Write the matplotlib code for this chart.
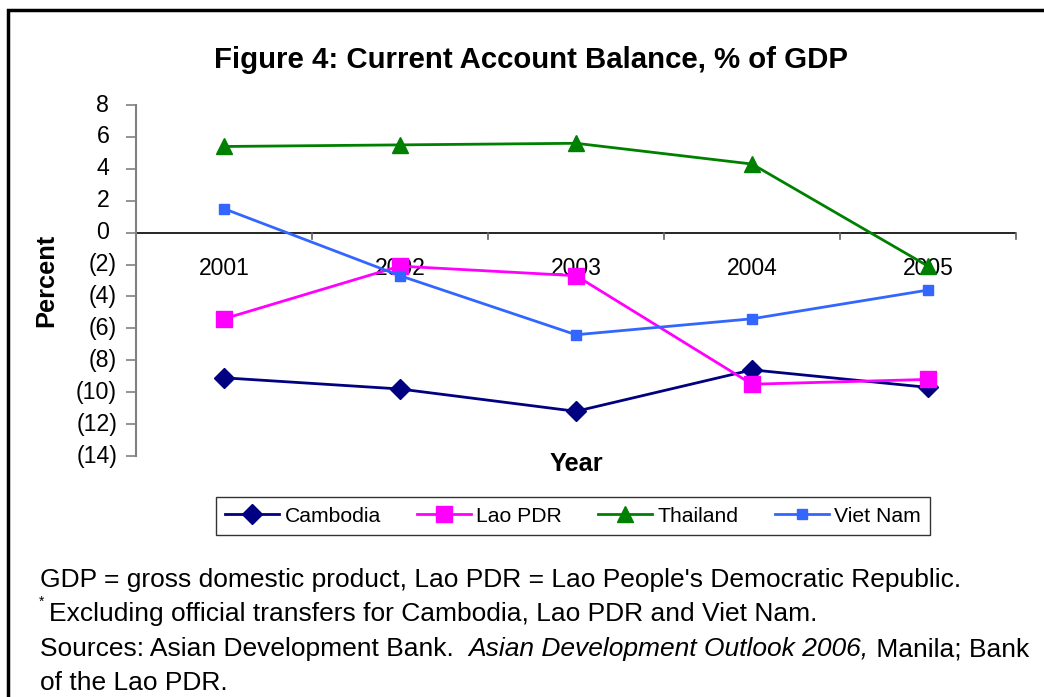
import matplotlib
matplotlib.use("Agg")
import matplotlib.pyplot as plt
from matplotlib.patches import Rectangle
from matplotlib.transforms import offset_copy

plt.rcParams['font.family'] = ['Liberation Sans', 'DejaVu Sans']

years = ["2001", "2002", "2003", "2004", "2005"]
cambodia = [-9.1, -9.8, -11.2, -8.6, -9.7]
lao_pdr = [-5.4, -2.1, -2.7, -9.5, -9.2]
thailand = [5.4, 5.5, 5.6, 4.3, -2.1]
viet_nam = [1.5, -2.7, -6.4, -5.4, -3.6]
y_ticks = [8, 6, 4, 2, 0, -2, -4, -6, -8, -10, -12, -14]

W, H = 1044, 697
fig = plt.figure(figsize=(W / 100, H / 100), dpi=100)
fig.patch.set_facecolor("white")

# outer frame
fig.add_artist(Rectangle((8 / W, -0.05), 1.1, 1 - 10 / H + 0.05,
                         transform=fig.transFigure, fill=False,
                         edgecolor="black", linewidth=2.5))

ax = fig.add_axes([136 / W, 1 - 456 / H, (1016 - 136) / W, (456 - 105) / H])
x = list(range(len(years)))

series = [
    ("Cambodia", cambodia, "#000080", "D", 10),
    ("Lao PDR", lao_pdr, "#FF00FF", "s", 11),
    ("Thailand", thailand, "#008000", "^", 11),
    ("Viet Nam", viet_nam, "#3366FF", "s", 7),
]
handles = []
for name, vals, col, mk, ms in series:
    h, = ax.plot(x, vals, color=col, marker=mk, markersize=ms, linewidth=2,
                 label=name, clip_on=False, zorder=3)
    handles.append(h)

ax.set_xlim(-0.5, len(years) - 0.5)
ax.set_ylim(-14, 8)
ax.set_yticks(y_ticks)
ax.set_yticklabels([])

for s in ["top", "right", "bottom"]:
    ax.spines[s].set_visible(False)
ax.spines["left"].set_color("#808080")
ax.spines["left"].set_linewidth(1.5)
ax.tick_params(axis="y", direction="out", length=7, color="#808080", width=1.2)

# value labels, negatives in parentheses (accounting style, digits aligned)
tick_fs = 16.7
paren_px = 0.333 * tick_fs * 100 / 72
ytrans = ax.get_yaxis_transform()
for v in y_ticks:
    if v < 0:
        lbl, dx = f"({abs(v)})", -19
    else:
        lbl, dx = f"{v}", -19 - paren_px
    ax.text(0, v, lbl, ha="right", va="center", fontsize=tick_fs,
            transform=offset_copy(ytrans, fig=fig, x=dx, y=0, units="dots"))

# horizontal category axis at zero
ax.axhline(0, color="black", linewidth=1.2, zorder=2)
ax.set_xticks([])
for b in [i - 0.5 for i in range(len(years) + 1)]:
    ax.plot([b, b], [0, -0.4], color="#606060", linewidth=1.2, clip_on=False, zorder=2)
for i, yr in enumerate(years):
    ax.text(i, -2.25, yr, ha="center", va="center", fontsize=16.5, zorder=2)

ax.patch.set_alpha(0)

fig.text(531 / W, 1 - 60 / H, "Figure 4: Current Account Balance, % of GDP",
         ha="center", va="center", fontsize=21.2, fontweight="bold")
fig.text(46 / W, 1 - 280 / H, "Percent", rotation=90, ha="center", va="center",
         fontsize=18.3, fontweight="bold")
fig.text(576 / W, 1 - 464 / H, "Year", ha="center", va="center",
         fontsize=18.3, fontweight="bold")

leg = fig.legend(handles=handles, loc="center", ncol=4,
                 bbox_to_anchor=(573 / W, 1 - 516 / H), fontsize=15.2,
                 frameon=True, fancybox=False, edgecolor="black", handlelength=2.56,
                 columnspacing=1.72, handletextpad=0.24, borderpad=0.45,
                 borderaxespad=0)
leg.get_frame().set_linewidth(1.0)

fs = 19
fig.text(40 / W, 1 - 580 / H,
         "GDP = gross domestic product, Lao PDR = Lao People's Democratic Republic.",
         ha="left", va="center", fontsize=fs)
fig.text(39 / W, 1 - 602 / H, "*", ha="left", va="center", fontsize=10)
fig.text(49 / W, 1 - 614 / H,
         "Excluding official transfers for Cambodia, Lao PDR and Viet Nam.",
         ha="left", va="center", fontsize=fs)
t1 = fig.text(40 / W, 1 - 649 / H, "Sources: Asian Development Bank.  ",
              ha="left", va="center", fontsize=fs)
fig.canvas.draw()
r = fig.canvas.get_renderer()
bb = t1.get_window_extent(r)
t2 = fig.text(bb.x1 / W, 1 - 649 / H, "Asian Development Outlook 2006,",
              ha="left", va="center", fontsize=fs, style="italic")
bb2 = t2.get_window_extent(r)
fig.text(bb2.x1 / W, 1 - 649 / H, " Manila; Bank",
         ha="left", va="center", fontsize=fs)
fig.text(40 / W, 1 - 683 / H, "of the Lao PDR.", ha="left", va="center", fontsize=fs)

fig.savefig("out.png", dpi=100, facecolor="white")
